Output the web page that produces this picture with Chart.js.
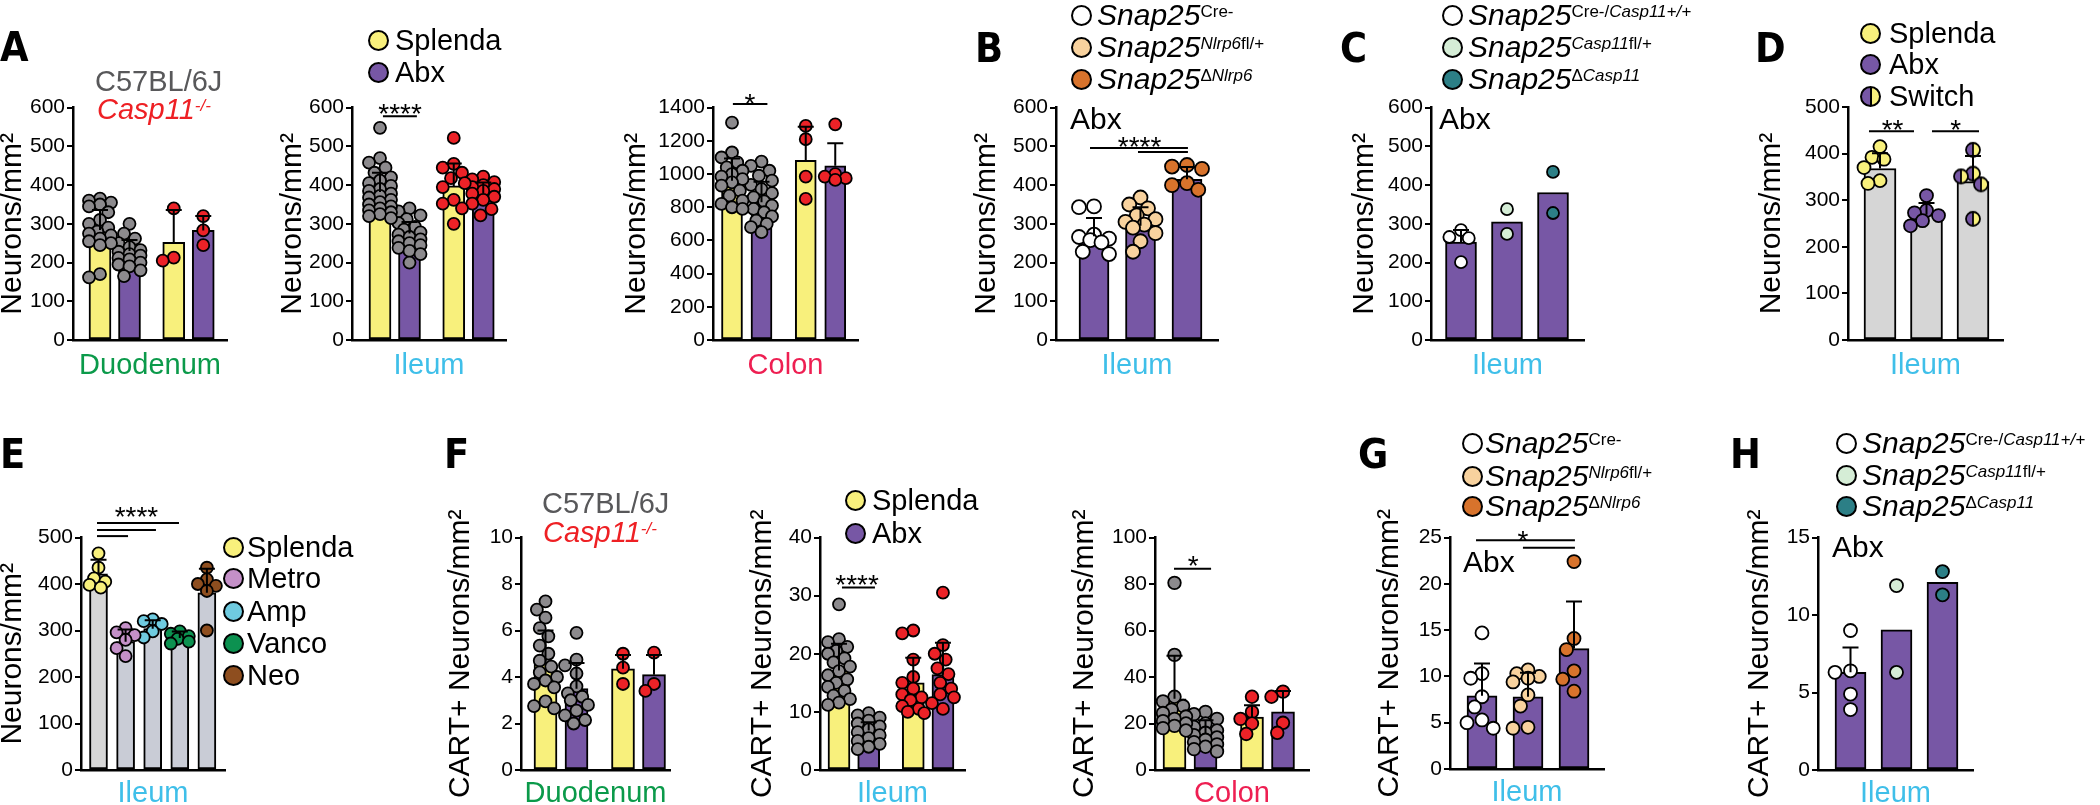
<!DOCTYPE html>
<html>
<head>
<meta charset="utf-8">
<script src="https://cdn.jsdelivr.net/npm/chart.js@4.4.1/dist/chart.umd.min.js"></script>
<style>
  html, body { margin: 0; padding: 0; background: #fff; }
  body { position: relative; width: 2100px; height: 805px; overflow: hidden;
         font-family: "Liberation Sans", Arial, sans-serif; color: #000; }
  .box { position: absolute; }
  .txt { position: absolute; line-height: 1; white-space: nowrap; }
  .letter { font-family: "Liberation Sans Narrow", "DejaVu Sans Condensed", sans-serif; font-weight: bold; }
  .dot { position: absolute; width: 21px; height: 21px; border: 2px solid #000; border-radius: 50%; box-sizing: border-box; }
  .sup { font-size: 17px; position: relative; top: -8px; }
</style>
</head>
<body>
<script>
// ---------- data ----------
const posA = [0, 1, 2.5, 3.5];          // C57BL/6J Splenda, Abx | Casp11-/- Splenda, Abx
const pos3 = [0, 1, 2];
const pos5 = [0, 1, 2, 3, 4];

const abxLegend = ["Splenda", "Abx"];
const switchLegend = ["Splenda", "Abx", "Switch"];
const drugLegend = ["Splenda", "Metro", "Amp", "Vanco", "Neo"];

// A: neurons/mm2
const duoMeanA = [284, 230, 252, 283];
const duoSdA = [52, 28, 84, 37];
const duoPtsA = [
  [365, 360, 355, 350, 345, 330, 310, 300, 290, 280, 275, 270, 262, 255, 250, 245, 170, 162],
  [300, 275, 262, 250, 240, 232, 228, 222, 218, 212, 208, 200, 195, 190, 180, 165],
  [340, 213, 205],
  [320, 283, 245]
];
const ileMeanA = [382, 275, 398, 380];
const ileSdA = [50, 30, 58, 27];
const ilePtsA = [
  [548, 470, 458, 445, 432, 420, 412, 405, 398, 390, 385, 378, 372, 368, 362, 356, 350, 345, 340, 335, 330, 325, 320, 315],
  [340, 332, 322, 312, 302, 292, 285, 278, 272, 266, 260, 255, 250, 245, 238, 230, 222, 200],
  [522, 455, 445, 432, 418, 405, 395, 362, 352, 340, 300],
  [422, 415, 408, 400, 395, 390, 385, 378, 370, 362, 352, 338, 322]
];
const colMeanA = [960, 830, 1083, 1050];
const colSdA = [134, 124, 202, 135];
const colPtsA = [
  [1310, 1130, 1100, 1070, 1040, 1020, 1000, 985, 970, 950, 930, 900, 870, 840, 820, 800, 790],
  [1075, 1050, 1020, 990, 960, 935, 910, 885, 860, 835, 810, 790, 770, 745, 720, 700, 680, 650],
  [1290, 1210, 985, 850],
  [1300, 1000, 985, 975, 965]
];

// B: Snap25 x Nlrp6, Abx ileum
const meanB = [268, 295, 415];
const sdB = [47, 48, 32];
const ptsB = [
  [345, 343, 272, 266, 262, 258, 252, 228, 222],
  [368, 350, 340, 322, 312, 305, 298, 290, 276, 255, 228],
  [452, 448, 442, 405, 400, 388]
];

// C: Snap25 x Casp11, Abx ileum
const meanC = [253, 305, 381];
const sdC = [31, null, null];
const ptsC = [[284, 266, 263, 201], [338, 274], [434, 328]];

// D: Splenda / Abx / Switch
const meanD = [368, 269, 340];
const sdD = [33, 25, 55];
const ptsD = [
  [415, 392, 388, 370, 342, 336],
  [310, 278, 273, 267, 256, 245],
  [408, 357, 351, 334, 260]
];

// E: single antibiotics
const meanE = [422, 276, 304, 284, 381];
const sdE = [30, 26, 18, 14, 52];
const ptsE = [
  [466, 435, 412, 405, 398, 392],
  [305, 296, 290, 280, 262, 245],
  [324, 320, 314, 298, 285],
  [298, 293, 288, 282, 276, 272],
  [435, 410, 400, 396, 385, 300]
];

// F: CART+ neurons/mm2
const duoMeanF = [4.6, 3.5, 4.35, 4.1];
const duoSdF = [1.4, 1.1, 0.6, 0.85];
const duoPtsF = [
  [7.25, 6.9, 6.55, 6.1, 5.75, 5.35, 5.0, 4.7, 4.45, 4.2, 4.0, 3.85, 3.7, 3.55, 2.95, 2.75, 2.65],
  [5.9, 4.75, 4.5, 4.15, 3.6, 3.3, 3.15, 3.0, 2.8, 2.55, 2.35, 2.15, 2.0],
  [5.0, 4.4, 3.7],
  [5.05, 3.7, 3.4]
];
const ileMeanF = [17.1, 6.8, 15.0, 16.4];
const ileSdF = [4.6, 1.4, 4.3, 5.5];
const ilePtsF = [
  [28.5, 22.5, 22, 21.2, 20.5, 20, 19.2, 18.5, 17.8, 17, 16.3, 15.6, 15, 14.3, 13.6, 12.8, 12.2, 11.6, 11.2],
  [9.8, 9.4, 9.0, 8.5, 8.0, 7.5, 7.0, 6.5, 6.0, 5.5, 5.0, 4.5, 4.0, 3.6],
  [24, 23.5, 19, 16, 15, 14, 13, 12.5, 12, 11, 10.5, 10, 9.8],
  [30.5, 21.5, 20, 19, 17.5, 16.5, 15, 14, 13, 12.5, 11.5, 10.5]
];
const colMeanF = [30.6, 15.9, 22.8, 25.0];
const colSdF = [18.5, 5.5, 5, 9];
const colPtsF = [
  [80.5, 49.5, 31.5, 29.5, 27.5, 26, 24.5, 23, 22, 21, 20, 19, 18, 17],
  [25, 24, 22, 20, 18.5, 17, 16, 15, 14, 13, 12, 11, 10, 9, 8],
  [31.5, 25, 22, 20, 15.5],
  [33.7, 31.5, 20.3, 16]
];

// G, H: CART+ in Snap25 lines
const meanG = [7.9, 7.8, 13.0];
const sdG = [3.5, 2.6, 5.1];
const ptsG = [
  [14.7, 10.3, 9.8, 7.8, 6.7, 5.3, 5.0, 4.4],
  [10.7, 10.3, 10.0, 9.8, 9.4, 8.0, 6.8, 4.5, 4.4],
  [22.4, 14.1, 12.9, 10.6, 9.7, 8.4]
];
const meanH = [6.3, 9.05, 12.1];
const sdH = [1.6, null, null];
const ptsH = [[9.0, 6.4, 6.3, 4.9, 3.9], [11.9, 6.3], [12.8, 11.3]];

// ---------- styles ----------
const YEL = "#f8f07c", PUR = "#7757a5", GRAYBAR = "#d6d6d6", EBAR = "#c9ccd6";
const GRAY = "#8c8a8d", RED = "#ec2227", WHITE = "#ffffff", TAN = "#f8d29e", ORANGE = "#d8732c";
const LGREEN = "#d5edd6", TEAL = "#2c7f86", METRO = "#c490c8", AMP = "#6fcbe0", VANCO = "#0c9150", NEO = "#8e4e1f";
const GREEN_T = "#0b9a4a", BLUE_T = "#3fbfe9", RED_T = "#ee1f52";
const NEURONS = "Neurons/mm²", CART = "CART+ Neurons/mm²";

Chart.defaults.font.family = '"Liberation Sans", Arial, sans-serif';
Chart.defaults.color = "#000";

function halfDot(r) {
  const c = document.createElement("canvas");
  const s = Math.ceil(2 * r + 4);
  c.width = s; c.height = s;
  const g = c.getContext("2d");
  const m = s / 2;
  g.fillStyle = PUR;
  g.beginPath(); g.arc(m, m, r, Math.PI / 2, Math.PI * 1.5); g.fill();
  g.fillStyle = YEL;
  g.beginPath(); g.arc(m, m, r, -Math.PI / 2, Math.PI / 2); g.fill();
  g.strokeStyle = "#000"; g.lineWidth = 1.8;
  g.beginPath(); g.moveTo(m, m - r); g.lineTo(m, m + r); g.stroke();
  g.beginPath(); g.arc(m, m, r, 0, Math.PI * 2); g.stroke();
  return c;
}

// spread points sideways so they overlap less (layout only)
function swarm(vals, pxPerY, r, spread) {
  const cands = [0];
  for (let k = 1; k <= 4; k++) cands.push(-k * spread / 4, k * spread / 4);
  const placed = [];
  const out = new Array(vals.length).fill(0);
  vals.map((v, i) => i).sort((a, b) => vals[b] - vals[a]).forEach(i => {
    const y = vals[i] * pxPerY;
    let best = 0, bestCost = Infinity;
    cands.forEach(dx => {
      let cost = Math.abs(dx) * 0.02;
      placed.forEach(q => {
        const d = Math.hypot(q.x - dx, q.y - y);
        if (d < 1.6 * r) cost += 1.6 * r - d;
      });
      if (cost < bestCost) { bestCost = cost; best = dx; }
    });
    out[i] = best;
    placed.push({ x: best, y });
  });
  return out;
}

const panels = [
  { rowTop: 0, titleX: 12.5, axisX: 73, axisRight: 227, axisTop: 107.7, axisBottom: 340, xAxisH: 43,
    ymax: 600, step: 100, ytitle: NEURONS, xtitle: "Duodenum", xcolor: GREEN_T,
    x0: 100, unit: 29.5, barW: 22, r: 6, pos: posA, mean: duoMeanA, sd: duoSdA, pts: duoPtsA,
    barColors: [YEL, PUR, YEL, PUR], ptColors: [GRAY, GRAY, RED, RED], sig: [] },
  { rowTop: 0, titleX: 292.5, axisX: 352, axisRight: 506, axisTop: 107.7, axisBottom: 340, xAxisH: 43,
    ymax: 600, step: 100, ytitle: NEURONS, xtitle: "Ileum", xcolor: BLUE_T,
    x0: 380, unit: 29.5, barW: 22, r: 6, pos: posA, mean: ileMeanA, sd: ileSdA, pts: ilePtsA,
    barColors: [YEL, PUR, YEL, PUR], ptColors: [GRAY, GRAY, RED, RED],
    sig: [{ lines: [[0.1, 1.25, 578]], text: "****", tx: 0.68, ty: 602 }] },
  { rowTop: 0, titleX: 637, axisX: 713, axisRight: 858, axisTop: 107.7, axisBottom: 340, xAxisH: 43,
    ymax: 1400, step: 200, ytitle: NEURONS, xtitle: "Colon", xcolor: RED_T,
    x0: 732, unit: 29.5, barW: 21, r: 6, pos: posA, mean: colMeanA, sd: colSdA, pts: colPtsA,
    barColors: [YEL, PUR, YEL, PUR], ptColors: [GRAY, GRAY, RED, RED],
    sig: [{ lines: [[0.03, 1.2, 1422]], text: "*", tx: 0.61, ty: 1464 }] },
  { rowTop: 0, titleX: 987, axisX: 1056, axisRight: 1218, axisTop: 107.7, axisBottom: 340, xAxisH: 43,
    ymax: 600, step: 100, ytitle: NEURONS, xtitle: "Ileum", xcolor: BLUE_T,
    x0: 1094, unit: 46.5, barW: 30, r: 7, pos: pos3, mean: meanB, sd: sdB, pts: ptsB,
    barColors: [PUR, PUR, PUR], ptColors: [WHITE, TAN, ORANGE],
    sig: [{ lines: [[-0.086, 2.02, 496], [0.946, 2.02, 485.5]], text: "****", tx: 0.98, ty: 516 }] },
  { rowTop: 0, titleX: 1365, axisX: 1431, axisRight: 1584, axisTop: 107.7, axisBottom: 340, xAxisH: 43,
    ymax: 600, step: 100, ytitle: NEURONS, xtitle: "Ileum", xcolor: BLUE_T,
    x0: 1461, unit: 46, barW: 31, r: 6, pos: pos3, mean: meanC, sd: sdC, pts: ptsC,
    barColors: [PUR, PUR, PUR], ptColors: [WHITE, LGREEN, TEAL], sig: [] },
  { rowTop: 0, titleX: 1772, axisX: 1848, axisRight: 2003, axisTop: 107, axisBottom: 339.5, xAxisH: 43,
    ymax: 500, step: 100, ytitle: NEURONS, xtitle: "Ileum", xcolor: BLUE_T,
    x0: 1880, unit: 46.5, barW: 32, r: 6.5, pos: pos3, mean: meanD, sd: sdD, pts: ptsD,
    barColors: [GRAYBAR, GRAYBAR, GRAYBAR], ptColors: [YEL, PUR, "switch"],
    sig: [{ lines: [[-0.237, 0.731, 448]], text: "**", tx: 0.27, ty: 465 },
          { lines: [[1.118, 2.129, 448]], text: "*", tx: 1.63, ty: 465 }] },
  { rowTop: 400, titleX: 12.5, axisX: 81, axisRight: 225, axisTop: 537.5, axisBottom: 770, xAxisH: 41,
    ymax: 500, step: 100, ytitle: NEURONS, xtitle: "Ileum", xcolor: BLUE_T,
    x0: 98.5, unit: 27.1, barW: 18, r: 6, pos: pos5, mean: meanE, sd: sdE, pts: ptsE,
    barColors: [GRAYBAR, EBAR, EBAR, EBAR, EBAR], ptColors: [YEL, METRO, AMP, VANCO, NEO],
    sig: [{ lines: [[-0.055, 2.97, 531], [-0.055, 2.12, 516], [-0.055, 1.09, 503]], text: "****", tx: 1.4, ty: 559 }] },
  { rowTop: 400, titleX: 461, axisX: 521, axisRight: 670, axisTop: 537.5, axisBottom: 769.5, xAxisH: 41,
    ymax: 10, step: 2, ytitle: CART, xtitle: "Duodenum", xcolor: GREEN_T,
    x0: 545.5, unit: 31, barW: 23, r: 6, pos: posA, mean: duoMeanF, sd: duoSdF, pts: duoPtsF,
    barColors: [YEL, PUR, YEL, PUR], ptColors: [GRAY, GRAY, RED, RED], sig: [] },
  { rowTop: 400, titleX: 763, axisX: 820, axisRight: 965, axisTop: 537.5, axisBottom: 769.5, xAxisH: 41,
    ymax: 40, step: 10, ytitle: CART, xtitle: "Ileum", xcolor: BLUE_T,
    x0: 839, unit: 29.7, barW: 22, r: 6, pos: posA, mean: ileMeanF, sd: ileSdF, pts: ilePtsF,
    barColors: [YEL, PUR, YEL, PUR], ptColors: [GRAY, GRAY, RED, RED],
    sig: [{ lines: [[0.1, 1.21, 31.4]], text: "****", tx: 0.61, ty: 33.1 }] },
  { rowTop: 400, titleX: 1085, axisX: 1155, axisRight: 1309, axisTop: 537.5, axisBottom: 769.5, xAxisH: 41,
    ymax: 100, step: 20, ytitle: CART, xtitle: "Colon", xcolor: RED_T,
    x0: 1174.5, unit: 31, barW: 23, r: 6.3, pos: posA, mean: colMeanF, sd: colSdF, pts: colPtsF,
    barColors: [YEL, PUR, YEL, PUR], ptColors: [GRAY, GRAY, RED, RED],
    sig: [{ lines: [[-0.016, 1.18, 86.6]], text: "*", tx: 0.6, ty: 90.5 }] },
  { rowTop: 400, titleX: 1390, axisX: 1450, axisRight: 1604, axisTop: 537.5, axisBottom: 768.5, xAxisH: 41,
    ymax: 25, step: 5, ytitle: CART, xtitle: "Ileum", xcolor: BLUE_T,
    x0: 1482, unit: 46, barW: 30, r: 6.5, pos: pos3, mean: meanG, sd: sdG, pts: ptsG,
    barColors: [PUR, PUR, PUR], ptColors: [WHITE, TAN, ORANGE],
    sig: [{ lines: [[-0.13, 2.02, 24.7], [0.89, 2.02, 23.9]], text: "*", tx: 0.89, ty: 25.4 }] },
  { rowTop: 400, titleX: 1760, axisX: 1818, axisRight: 1973, axisTop: 537.5, axisBottom: 769.5, xAxisH: 41,
    ymax: 15, step: 5, ytitle: CART, xtitle: "Ileum", xcolor: BLUE_T,
    x0: 1850.5, unit: 46, barW: 31, r: 6.5, pos: pos3, mean: meanH, sd: sdH, pts: ptsH,
    barColors: [PUR, PUR, PUR], ptColors: [WHITE, LGREEN, TEAL], sig: [] }
];

function marksPlugin(p) {
  return {
    id: "marks",
    afterDatasetsDraw(chart) {
      const { ctx } = chart;
      const x = chart.scales.x, y = chart.scales.y;
      ctx.save();
      ctx.strokeStyle = "#000";
      ctx.fillStyle = "#000";
      ctx.lineWidth = 2;
      p.pos.forEach((pv, i) => {
        if (p.sd[i] == null) return;
        const cx = x.getPixelForValue(pv);
        const y0 = y.getPixelForValue(p.mean[i]);
        const y1 = y.getPixelForValue(p.mean[i] + p.sd[i]);
        ctx.beginPath();
        ctx.moveTo(cx, y0); ctx.lineTo(cx, y1);
        ctx.moveTo(cx - 8, y1); ctx.lineTo(cx + 8, y1);
        ctx.stroke();
      });
      p.sig.forEach(s => {
        s.lines.forEach(([a, b, v]) => {
          const py = y.getPixelForValue(v);
          ctx.beginPath();
          ctx.moveTo(x.getPixelForValue(a), py);
          ctx.lineTo(x.getPixelForValue(b), py);
          ctx.stroke();
        });
        ctx.font = '28px "Liberation Sans", Arial, sans-serif';
        ctx.textAlign = "center";
        ctx.textBaseline = "alphabetic";
        ctx.fillText(s.text, x.getPixelForValue(s.tx), y.getPixelForValue(s.ty) + 15.9);
      });
      ctx.restore();
    }
  };
}

function buildPanel(p) {
  const left = Math.round(p.titleX - 18);
  const yAxisW = p.axisX - left;
  const padTop = p.axisTop - p.rowTop;
  const padRight = 16;
  const width = Math.ceil(yAxisW + (p.axisRight - p.axisX) + padRight);
  const height = Math.ceil(padTop + (p.axisBottom - p.axisTop) + p.xAxisH);
  const box = document.createElement("div");
  box.className = "box";
  box.style.cssText = `left:${left}px;top:${p.rowTop}px;width:${width}px;height:${height}px`;
  const canvas = document.createElement("canvas");
  canvas.width = width; canvas.height = height;
  box.appendChild(canvas);
  document.body.appendChild(box);

  const pxPerY = (p.axisBottom - p.axisTop) / p.ymax;
  const pointSets = p.pts.map((vals, g) => {
    const off = swarm(vals, pxPerY, p.r + 0.9, p.barW * 0.5);
    const sw = p.ptColors[g] === "switch";
    return {
      type: "scatter", order: 1, clip: false, showLine: false,
      data: vals.map((v, k) => ({ x: p.pos[g] + off[k] / p.unit, y: v })),
      pointRadius: p.r, pointBorderWidth: 1.8, pointBorderColor: "#000",
      pointBackgroundColor: sw ? YEL : p.ptColors[g],
      pointStyle: sw ? halfDot(p.r + 0.5) : "circle"
    };
  });

  new Chart(canvas, {
    type: "bar",
    data: {
      datasets: [
        {
          type: "bar", order: 2,
          data: p.pos.map((pv, i) => ({ x: pv, y: p.mean[i] })),
          backgroundColor: p.barColors, borderColor: "#000", borderWidth: 2,
          borderSkipped: false, barThickness: p.barW
        },
        ...pointSets
      ]
    },
    options: {
      responsive: false, animation: false, events: [],
      layout: { padding: { top: padTop, right: padRight, left: 0, bottom: 0 } },
      plugins: { legend: { display: false }, tooltip: { enabled: false } },
      scales: {
        x: {
          type: "linear", offset: false,
          min: (p.axisX - p.x0) / p.unit, max: (p.axisRight - p.x0) / p.unit,
          grid: { display: false }, ticks: { display: false },
          border: { display: true, color: "#000", width: 2.5 },
          title: { display: true, text: p.xtitle, color: p.xcolor, font: { size: 29 }, padding: 0 },
          afterFit: s => { s.height = p.xAxisH; }
        },
        y: {
          min: 0, max: p.ymax,
          ticks: { stepSize: p.step, font: { size: 21 }, color: "#000", padding: 2, callback: v => String(v) },
          grid: { drawOnChartArea: false, drawTicks: true, tickLength: 6, color: "#000", lineWidth: 2 },
          border: { display: true, color: "#000", width: 2.5 },
          title: { display: true, text: p.ytitle, color: "#000", font: { size: 30 }, padding: 0 },
          afterFit: s => { s.width = yAxisW; }
        }
      }
    },
    plugins: [marksPlugin(p)]
  });
}

panels.forEach(buildPanel);

// ---------- text: panel letters, strain notes, legends ----------
function text(html, x, cy, size, style = "") {
  const el = document.createElement("div");
  el.className = "txt";
  el.style.cssText = `left:${x}px;top:${cy - size / 2}px;font-size:${size}px;${style}`;
  el.innerHTML = html;
  document.body.appendChild(el);
  return el;
}
function dot(cx, cy, fill) {
  const el = document.createElement("div");
  el.className = "dot";
  el.style.left = (cx - 10.5) + "px";
  el.style.top = (cy - 10.5) + "px";
  el.style.background = fill;
  document.body.appendChild(el);
}
function legend(labels, fills, cx, ys, tx, size) {
  labels.forEach((lab, i) => {
    dot(cx, ys[i], fills[i]);
    text(lab, tx, ys[i], size);
  });
}

const SWITCH_FILL = `linear-gradient(90deg, ${PUR} 0 46%, #000 46% 56%, ${YEL} 56%)`;
const nlrpLabels = [
  '<i>Snap25</i><span class="sup">Cre-</span>',
  '<i>Snap25</i><span class="sup"><i>Nlrp6</i>fl/+</span>',
  '<i>Snap25</i><span class="sup">Δ<i>Nlrp6</i></span>'
];
const caspLabels = [
  '<i>Snap25</i><span class="sup">Cre-/<i>Casp11+/+</i></span>',
  '<i>Snap25</i><span class="sup"><i>Casp11</i>fl/+</span>',
  '<i>Snap25</i><span class="sup">Δ<i>Casp11</i></span>'
];

[["A", 0, 47], ["B", 975, 48], ["C", 1340, 48], ["D", 1755, 48],
 ["E", 0, 454], ["F", 444, 454], ["G", 1358, 454], ["H", 1730, 454]]
  .forEach(([t, x, y]) => text(t, x, y, 41).classList.add("letter"));

// strain notes
text("C57BL/6J", 95, 81, 29, "color:#58585a");
text('<i>Casp11</i><span class="sup"><i>-/-</i></span>', 97, 109, 29, "color:#ee2024");
text("C57BL/6J", 542, 503, 29, "color:#58585a");
text('<i>Casp11</i><span class="sup"><i>-/-</i></span>', 543, 532, 29, "color:#ee2024");
text("Abx", 1070, 119, 30);
text("Abx", 1439, 119, 30);
text("Abx", 1463, 562, 30);
text("Abx", 1832, 547, 30);

// legends
legend(abxLegend, [YEL, PUR], 378, [40, 72], 395, 29);
legend(nlrpLabels, [WHITE, TAN, ORANGE], 1081, [15, 47, 79], 1097, 30);
legend(caspLabels, [WHITE, LGREEN, TEAL], 1452, [15, 47, 79], 1468, 30);
legend(switchLegend, [YEL, PUR, SWITCH_FILL], 1870, [33, 64, 96], 1889, 29);
legend(drugLegend, [YEL, METRO, AMP, VANCO, NEO], 233, [547, 578, 611, 643, 675], 247, 29);
legend(abxLegend, [YEL, PUR], 855, [500, 533], 872, 29);
legend(nlrpLabels, [WHITE, TAN, ORANGE], 1472, [443, 476, 506], 1485, 30);
legend(caspLabels, [WHITE, LGREEN, TEAL], 1846, [443, 475, 506], 1862, 30);
</script>
</body>
</html>
